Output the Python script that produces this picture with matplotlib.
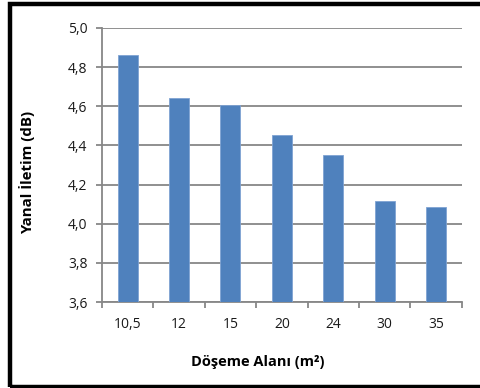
import numpy as np
import matplotlib.pyplot as plt
from matplotlib.patches import Rectangle
from matplotlib.ticker import FixedLocator, FuncFormatter

plt.rcParams['font.family'] = ['Open Sans', 'DejaVu Sans']

# Floor area categories and lateral transmission values
areas = ['10,5', '12', '15', '20', '24', '30', '35']
lateral = [4.86, 4.64, 4.605, 4.455, 4.35, 4.115, 4.085]

bar_color = '#4F81BD'
grid_color = '#878787'

fig = plt.figure(figsize=(4.81, 3.88), dpi=100)
ax = fig.add_axes([0.212, 0.2216, 0.748, 0.7064])

x = np.arange(len(areas))
ax.bar(x, lateral, width=0.39, color=bar_color, edgecolor='#7FA3D3',
       linewidth=0.6, zorder=3)

ax.set_xlim(-0.5, len(areas) - 0.5)
ax.set_ylim(3.6, 5.0)
ax.set_yticks(np.arange(3.6, 5.01, 0.2))
ax.yaxis.set_major_formatter(FuncFormatter(lambda v, p: f'{v:.1f}'.replace('.', ',')))
ax.grid(axis='y', color=grid_color, linewidth=1.3, zorder=0)

# category labels centered, tick marks on the category boundaries
ax.set_xticks(x)
ax.set_xticklabels(areas)
ax.tick_params(axis='x', which='major', length=0, pad=11)
ax.xaxis.set_minor_locator(FixedLocator(np.arange(-0.5, len(areas), 1.0)))
ax.tick_params(axis='x', which='minor', length=4.5, width=1.3, color=grid_color)
ax.tick_params(axis='y', length=4.5, width=1.3, color=grid_color, pad=6)
ax.tick_params(labelsize=10, labelcolor='#1a1a1a')

for side in ['top', 'right']:
    ax.spines[side].set_visible(False)
for side in ['left', 'bottom']:
    ax.spines[side].set_color(grid_color)
    ax.spines[side].set_linewidth(1.3)

fig.text(0.535, 0.068, 'Döşeme Alanı (m²)', ha='center', va='center',
         fontsize=10.5, fontweight='bold')
fig.text(0.056, 0.556, 'Yanal İletim (dB)', ha='center', va='center',
         rotation=90, fontsize=10.8, fontweight='bold')

# frame around the chart (open on the right)
fig.patches.append(Rectangle((10 / 481, 1.5 / 388), 1.2, (388 - 5.5) / 388,
                             transform=fig.transFigure, fill=False,
                             edgecolor='black', linewidth=3.2))

fig.savefig('out.png', dpi=100)
